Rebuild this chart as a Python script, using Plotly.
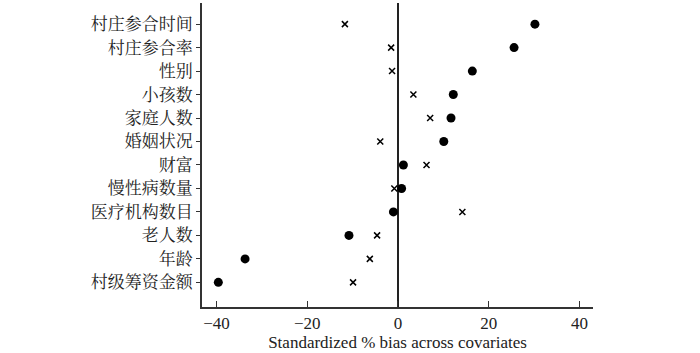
import plotly.graph_objects as go

categories = ["村庄参合时间", "村庄参合率", "性别", "小孩数", "家庭人数", "婚姻状况",
              "财富", "慢性病数量", "医疗机构数目", "老人数", "年龄", "村级筹资金额"]
unmatched = [30.2, 25.6, 16.4, 12.2, 11.7, 10.1, 1.2, 0.8, -1.0, -10.8, -33.7, -39.6]
matched = [-11.7, -1.5, -1.3, 3.4, 7.1, -3.9, 6.3, -0.8, 14.2, -4.6, -6.2, -9.9]
x_ticks = [-40, -20, 0, 20, 40]
x_tick_labels = ["−40", "−20", "0", "20", "40"]

n = len(categories)
ypos = [n - 1 - i for i in range(n)]

font_fam = "Liberation Serif, Times New Roman, Noto Serif CJK SC, Noto Sans CJK SC, serif"

fig = go.Figure()
fig.add_trace(go.Scatter(
    x=unmatched, y=ypos, mode="markers",
    marker=dict(symbol="circle", size=9, color="black"),
    name="Unmatched", showlegend=False, cliponaxis=False))
fig.add_trace(go.Scatter(
    x=matched, y=ypos, mode="markers",
    marker=dict(symbol="x-thin", size=6, color="black", line=dict(width=1.5, color="black")),
    name="Matched", showlegend=False, cliponaxis=False))

fig.update_layout(
    width=700, height=353,
    margin=dict(l=202, r=107, t=3, b=46),
    plot_bgcolor="white", paper_bgcolor="white",
    font=dict(family=font_fam, size=17, color="#222"),
    xaxis=dict(
        range=[-43.2, 43.0], tickvals=x_ticks, ticktext=x_tick_labels,
        ticks="inside", ticklen=6, tickwidth=1.2, tickcolor="#333",
        showline=True, linecolor="#333", linewidth=1.5, mirror=False,
        showgrid=False, zeroline=True, zerolinecolor="#222", zerolinewidth=1.5,
        automargin=False,
        title=dict(text="Standardized % bias across covariates", standoff=2,
                   font=dict(size=17, family=font_fam)),
        tickfont=dict(size=17, family=font_fam),
    ),
    yaxis=dict(
        range=[-1.05, 11.9], tickvals=ypos, ticktext=categories,
        ticks="outside", ticklen=4, tickwidth=1.2, tickcolor="#333",
        showline=True, linecolor="#333", linewidth=1.5,
        showgrid=False, zeroline=False, automargin=False,
        tickfont=dict(size=17, family=font_fam),
    ),
)

fig.write_html("out.html", config={"displayModeBar": False},
               post_script="document.body.style.margin='0';document.body.style.overflow='hidden';")
